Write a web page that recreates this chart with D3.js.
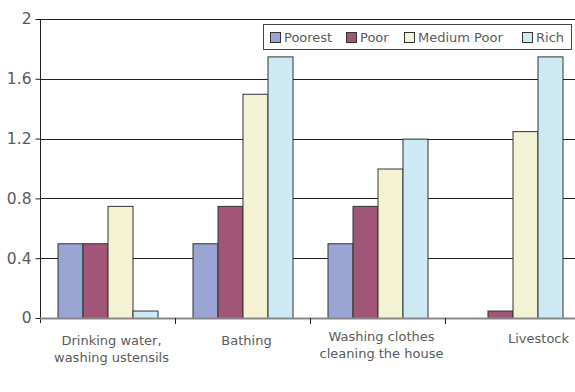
<!DOCTYPE html>
<html>
<head>
<meta charset="utf-8">
<script src="https://cdn.jsdelivr.net/npm/d3@7"></script>
<style>
  body { margin: 0; background: #fff; }
  text { font-family: "DejaVu Sans", sans-serif; fill: #5a5a5a; }
</style>
</head>
<body>
<div class="container"></div>
<script>
const WIDTH = 575,
    HEIGHT = 392,
    LEFT = 40,
    TOP = 19,
    BOTTOM = 318,
    GROUP_W = 135;

// data
var categories = [
    ['Drinking water,', 'washing ustensils'],
    ['Bathing'],
    ['Washing clothes', 'cleaning the house'],
    ['Livestock']
];
var seriesNames = ['Poorest', 'Poor', 'Medium Poor', 'Rich'];
var colors = ['#99a4d3', '#a15577', '#f3f2d2', '#cce9f4'];
var poorest = [0.5, 0.5, 0.5, 0];
var poor = [0.5, 0.75, 0.75, 0.05];
var mediumPoor = [0.75, 1.5, 1.0, 1.25];
var rich = [0.05, 1.75, 1.2, 1.75];
var yTicks = [0, 0.4, 0.8, 1.2, 1.6, 2];

var series = [poorest, poor, mediumPoor, rich];
var translate = (x, y) => "translate(" + x + "," + y + ")";

var svg = d3.select('.container').append('svg')
    .attr('width', WIDTH)
    .attr('height', HEIGHT);

var x0 = d3.scaleBand()
    .domain(d3.range(categories.length))
    .range([LEFT, LEFT + GROUP_W * categories.length]);

var x1 = d3.scaleBand()
    .domain(d3.range(seriesNames.length))
    .range([17.5, 117.5]);

var y = d3.scaleLinear()
    .domain([0, 2])
    .range([BOTTOM, TOP]);

// gridlines
svg.append('g')
    .selectAll('line')
    .data(yTicks.slice(1))
    .enter().append('line')
    .attr('x1', LEFT).attr('x2', WIDTH)
    .attr('y1', d => Math.round(y(d)) + 0.5)
    .attr('y2', d => Math.round(y(d)) + 0.5)
    .attr('stroke', '#222')
    .attr('stroke-width', 1);

// y axis
var yAxis = d3.axisLeft(y).tickValues(yTicks).tickSize(5).tickPadding(4)
    .tickFormat(d3.format('~g'));
var ya = svg.append('g')
    .attr('transform', translate(LEFT + 0.5, 0))
    .call(yAxis);
ya.select('.domain').remove();
ya.selectAll('.tick line').attr('stroke', '#222');
ya.selectAll('.tick text')
    .style('font-size', '15.5px')
    .style('fill', '#5a5a5a');
svg.append('line')
    .attr('x1', LEFT + 0.5).attr('x2', LEFT + 0.5)
    .attr('y1', TOP).attr('y2', BOTTOM + 5)
    .attr('stroke', '#222');

// bars
var groups = svg.append('g')
    .selectAll('g')
    .data(categories)
    .enter().append('g')
    .attr('transform', (d, i) => translate(x0(i), 0));

groups.selectAll('rect')
    .data((d, i) => series.map((s, j) => ({ s: j, v: s[i] })))
    .enter().append('rect')
    .filter(d => d.v > 0)
    .attr('x', d => x1(d.s) + 0.5)
    .attr('y', d => y(d.v) + 0.5)
    .attr('width', x1.bandwidth())
    .attr('height', d => y(0) - y(d.v))
    .attr('fill', d => colors[d.s])
    .attr('stroke', '#333')
    .attr('stroke-width', 1);

// x axis baseline and separators
svg.append('line')
    .attr('x1', LEFT).attr('x2', WIDTH)
    .attr('y1', BOTTOM + 0.5).attr('y2', BOTTOM + 0.5)
    .attr('stroke', '#888')
    .attr('stroke-width', 2);

svg.append('g')
    .selectAll('line')
    .data(d3.range(1, categories.length))
    .enter().append('line')
    .attr('x1', i => x0(i) + 0.5).attr('x2', i => x0(i) + 0.5)
    .attr('y1', BOTTOM).attr('y2', BOTTOM + 6)
    .attr('stroke', '#222');

// category labels (the last one sits further right, as in the source)
var labels = svg.append('g')
    .selectAll('text')
    .data(categories)
    .enter().append('text')
    .attr('text-anchor', 'middle')
    .style('font-size', '13px')
    .attr('transform', (d, i) => {
        var cx = x0(i) + x0.bandwidth() / 2 + (i === categories.length - 1 ? 26 : 4);
        var cy = i === 2 ? 341 : (i === 3 ? 343 : 345);
        return translate(cx, cy);
    });
labels.selectAll('tspan')
    .data(d => d)
    .enter().append('tspan')
    .attr('x', 0)
    .attr('dy', (d, i) => i ? 17 : 0)
    .text(d => d);

// legend
var legend = svg.append('g');
legend.append('rect')
    .attr('x', 263.5).attr('y', 24.5)
    .attr('width', 308).attr('height', 25)
    .attr('fill', '#fff')
    .attr('stroke', '#444');

var legendX = [270, 346, 404, 522];
var items = legend.selectAll('g')
    .data(seriesNames)
    .enter().append('g')
    .attr('transform', (d, i) => translate(legendX[i], 32));
items.append('rect')
    .attr('x', 0.5).attr('y', 0.5)
    .attr('width', 10).attr('height', 10)
    .attr('fill', (d, i) => colors[i])
    .attr('stroke', '#333');
items.append('text')
    .attr('x', 14).attr('y', 10)
    .style('font-size', '13px')
    .text(d => d);
</script>
</body>
</html>
